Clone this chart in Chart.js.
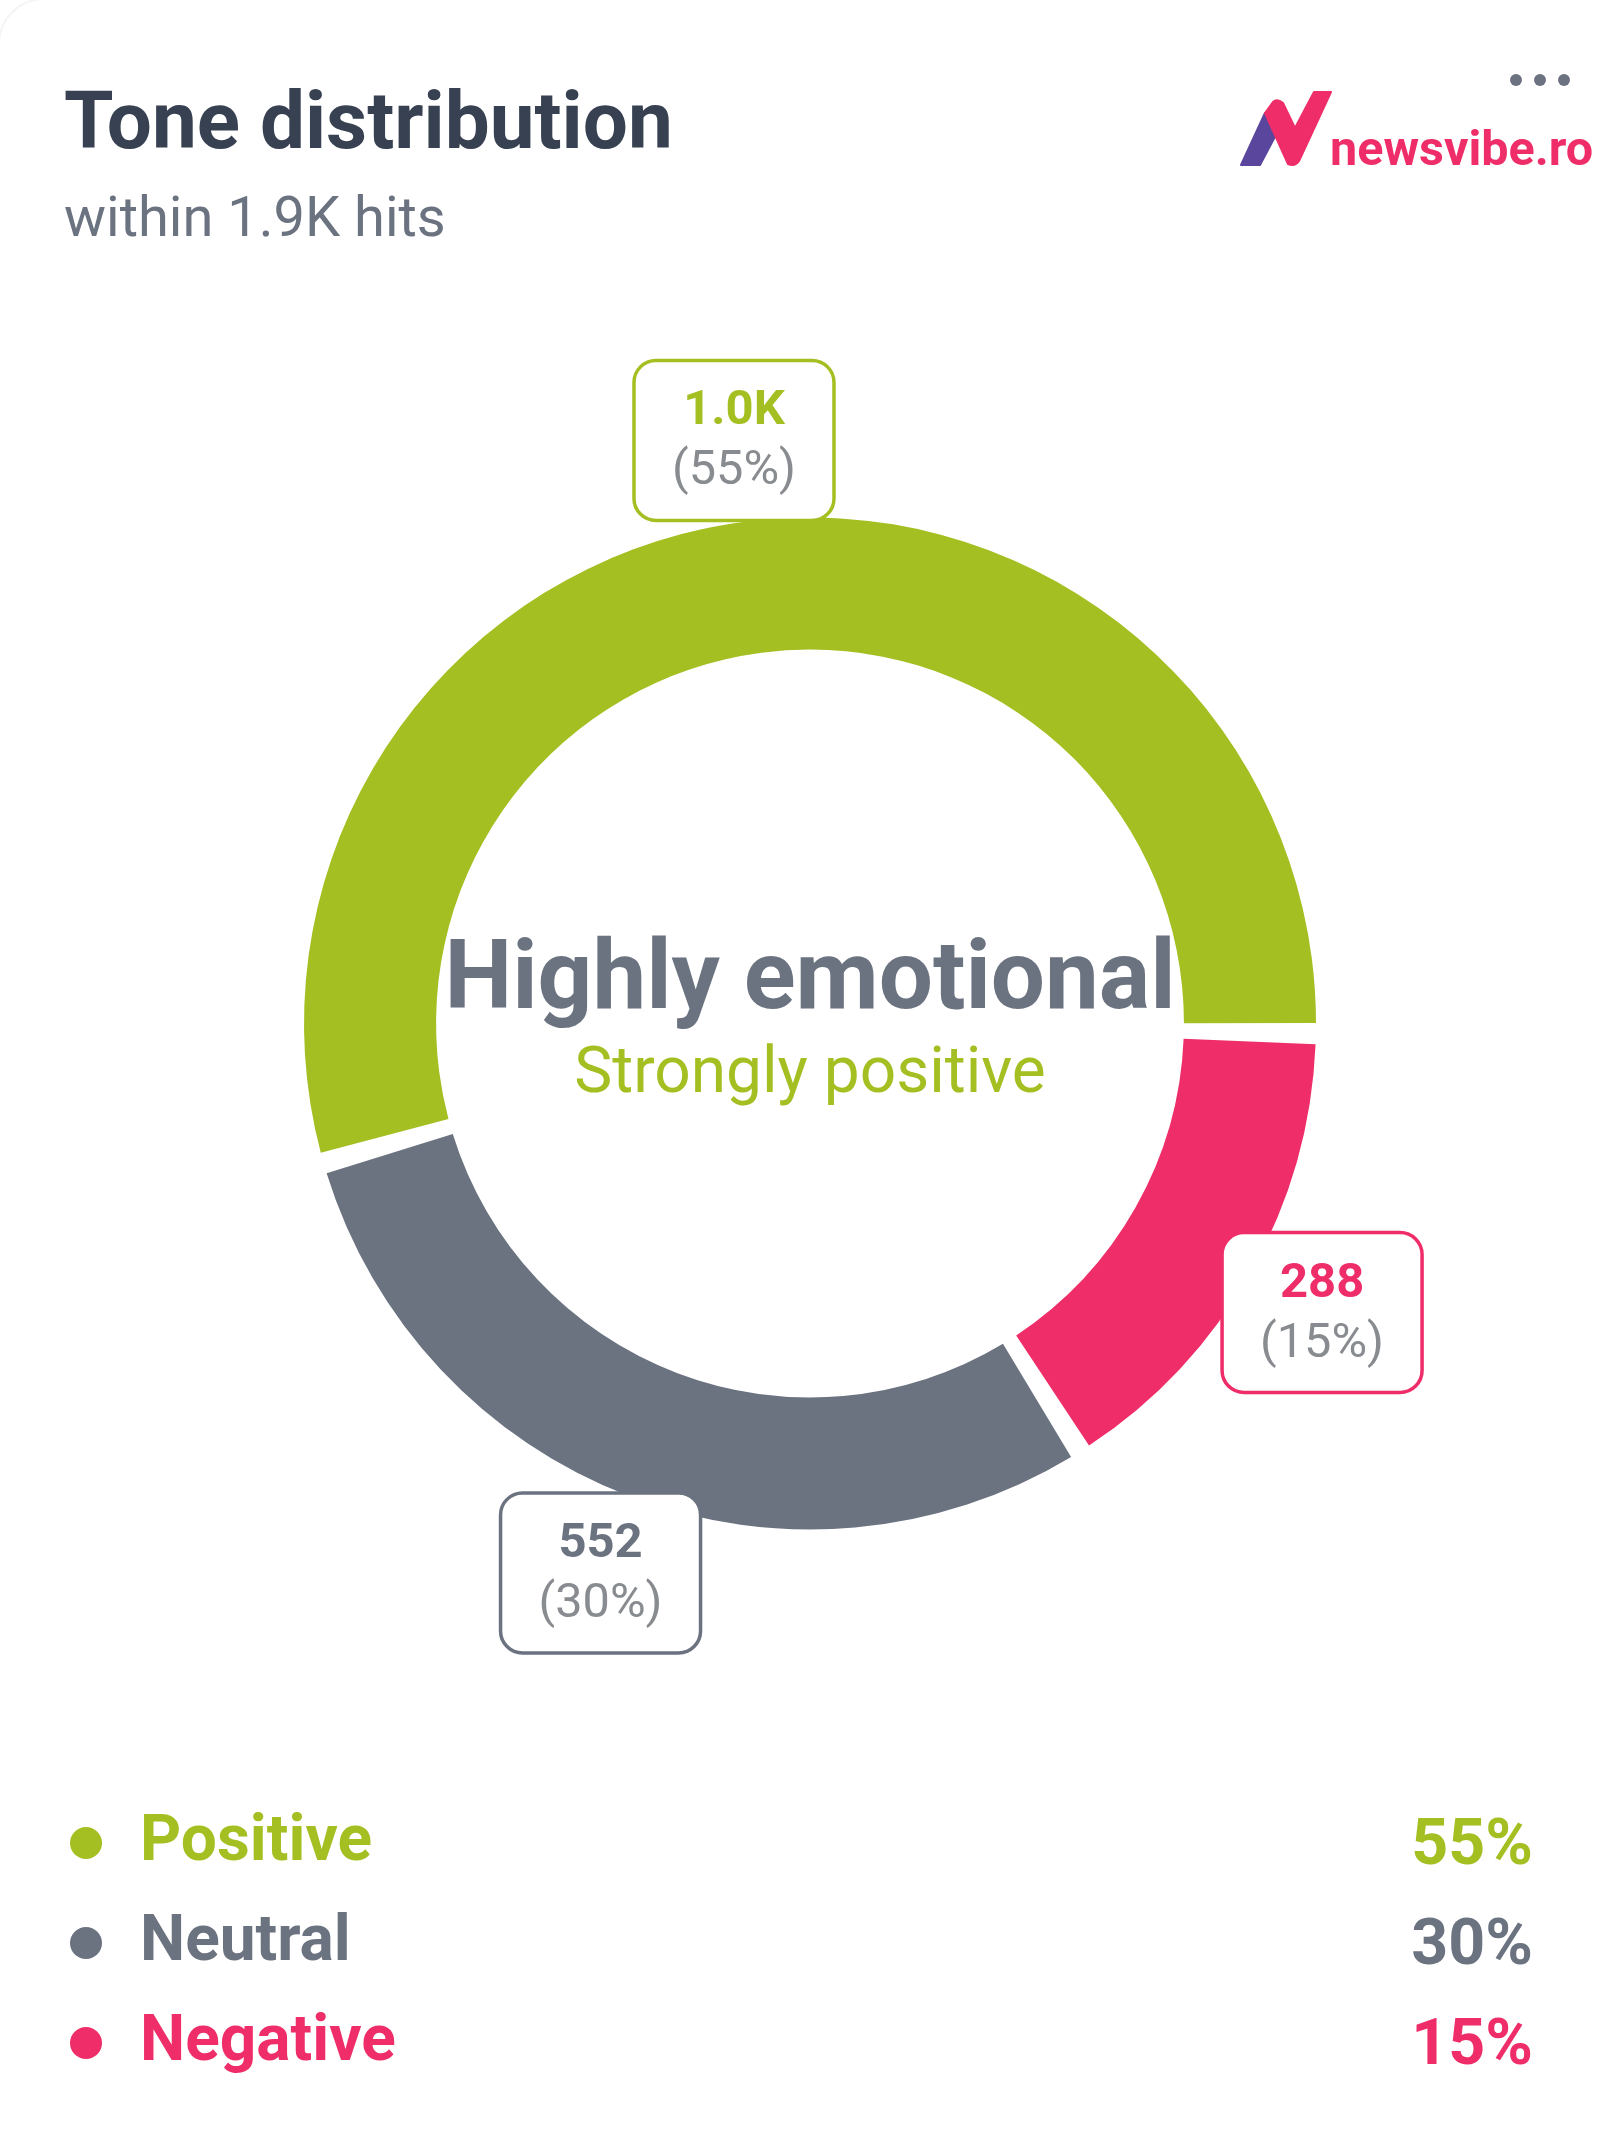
<!DOCTYPE html>
<html><head><meta charset="utf-8">
<script src="https://cdn.jsdelivr.net/npm/chart.js@4"></script>
<style>
html,body{margin:0;padding:0;background:#fff;width:1620px;height:2148px;overflow:hidden;font-family:Roboto,sans-serif}
#card{position:absolute;left:-2px;top:-2px;width:1800px;height:2300px;border:2px solid #f4f5f7;border-radius:46px;box-sizing:border-box}
canvas{position:absolute;left:0;top:0}
.t{position:absolute;white-space:nowrap;line-height:1}
#title{left:64px;top:81px;font-size:80px;font-weight:700;color:#374151}
#sub{left:64px;top:189px;font-size:56px;color:#6b7280}
#brand{left:1330px;top:125px;font-size:48.5px;font-weight:700;color:#ef2d68}
.row{position:absolute;left:0;width:1620px;height:80px}
.dot{position:absolute;left:70px;top:24px;width:32px;height:32px;border-radius:50%}
.lab{position:absolute;left:140px;top:4px;font-size:64px;font-weight:700;line-height:1}
.val{position:absolute;right:87px;top:7px;font-size:64.5px;font-weight:700;line-height:1}
svg{position:absolute;left:0;top:0}
</style></head><body>
<div id="card"></div>
<canvas id="c" width="1620" height="2148"></canvas>
<div class="t" id="title">Tone distribution</div>
<div class="t" id="sub">within 1.9K hits</div>
<svg width="1620" height="220" viewBox="0 0 1620 220">
<path d="M1241 165 L1265 113 L1278 131 L1260 165 Z" fill="#5a469c" stroke="#5a469c" stroke-width="2" stroke-linejoin="round"/>
<path d="M1265 113 L1273 102 Q1277 98 1283 103 L1295 128 L1314 92 L1331 92 L1299 161 Q1295 167 1288 164 Z" fill="#ef2d68" stroke="#ef2d68" stroke-width="2" stroke-linejoin="round"/>
<circle cx="1516" cy="80" r="6" fill="#6b7280"/><circle cx="1540" cy="80" r="6" fill="#6b7280"/><circle cx="1564" cy="80" r="6" fill="#6b7280"/>
</svg>
<div class="t" id="brand">newsvibe.ro</div>
<div id="legend"></div>
<script>
const categories = ['Positive', 'Negative', 'Neutral'];
const hits = [1035, 288, 552];
const hitLabels = ['1.0K', '288', '552'];
const percentLabels = ['55%', '15%', '30%'];
const colors = ['#a4bf21', '#ef2d68', '#6b7280'];
const legendOrder = [0, 2, 1];
const centerTitle = 'Highly emotional';
const centerSubtitle = 'Strongly positive';

const PAD_DEG = 2.4;
const RAD = Math.PI / 180;

const paddedArcs = {
  id: 'paddedArcs',
  afterDatasetUpdate(chart) {
    chart.getDatasetMeta(0).data.forEach((arc, i) => {
      arc.startAngle += i * PAD_DEG * RAD;
      arc.endAngle += i * PAD_DEG * RAD;
    });
  }
};

const overlays = {
  id: 'overlays',
  afterDatasetsDraw(chart) {
    const ctx = chart.ctx;
    const arcs = chart.getDatasetMeta(0).data;
    const cx = arcs[0].x, cy = arcs[0].y;
    ctx.save();
    ctx.textAlign = 'center';
    ctx.textBaseline = 'alphabetic';
    ctx.fillStyle = '#6b7280';
    ctx.font = '700 96px Roboto';
    ctx.fillText(centerTitle, cx, cy - 16);
    ctx.fillStyle = colors[0];
    ctx.font = '400 64px Roboto';
    ctx.fillText(centerSubtitle, cx, cy + 68);
    arcs.forEach((arc, i) => {
      const mid = (arc.startAngle + arc.endAngle) / 2;
      const d = arc.outerRadius + 82;
      const bx = cx + Math.cos(mid) * d;
      const by = cy + Math.sin(mid) * d;
      const w = 200, h = 160;
      ctx.beginPath();
      ctx.roundRect(bx - w / 2, by - h / 2, w, h, 22);
      ctx.fillStyle = '#fff';
      ctx.fill();
      ctx.lineWidth = 3.5;
      ctx.strokeStyle = colors[i];
      ctx.stroke();
      ctx.fillStyle = colors[i];
      ctx.font = '700 49px Roboto';
      ctx.fillText(hitLabels[i], bx, by - 16);
      ctx.fillStyle = '#888b8f';
      ctx.font = '400 48.7px Roboto';
      ctx.fillText('(' + percentLabels[i] + ')', bx, by + 44);
    });
    ctx.restore();
  }
};

new Chart(document.getElementById('c'), {
  type: 'doughnut',
  data: {
    labels: categories,
    datasets: [{
      data: hits,
      backgroundColor: colors,
      borderWidth: 0,
      radius: 506,
      cutout: '73.9%',
      rotation: 255.2,
      circumference: 360 - 3 * PAD_DEG
    }]
  },
  options: {
    responsive: false,
    animation: false,
    events: [],
    layout: { padding: { bottom: 101 } },
    plugins: { legend: { display: false }, tooltip: { enabled: false } }
  },
  plugins: [paddedArcs, overlays]
});

const legend = document.getElementById('legend');
legendOrder.forEach((k, pos) => {
  const row = document.createElement('div');
  row.className = 'row';
  row.style.top = (1803 + pos * 100) + 'px';
  row.innerHTML = '<div class="dot" style="background:' + colors[k] + '"></div>' +
    '<div class="lab" style="color:' + colors[k] + '">' + categories[k] + '</div>' +
    '<div class="val" style="color:' + colors[k] + '">' + percentLabels[k] + '</div>';
  legend.appendChild(row);
});
</script>
</body></html>
